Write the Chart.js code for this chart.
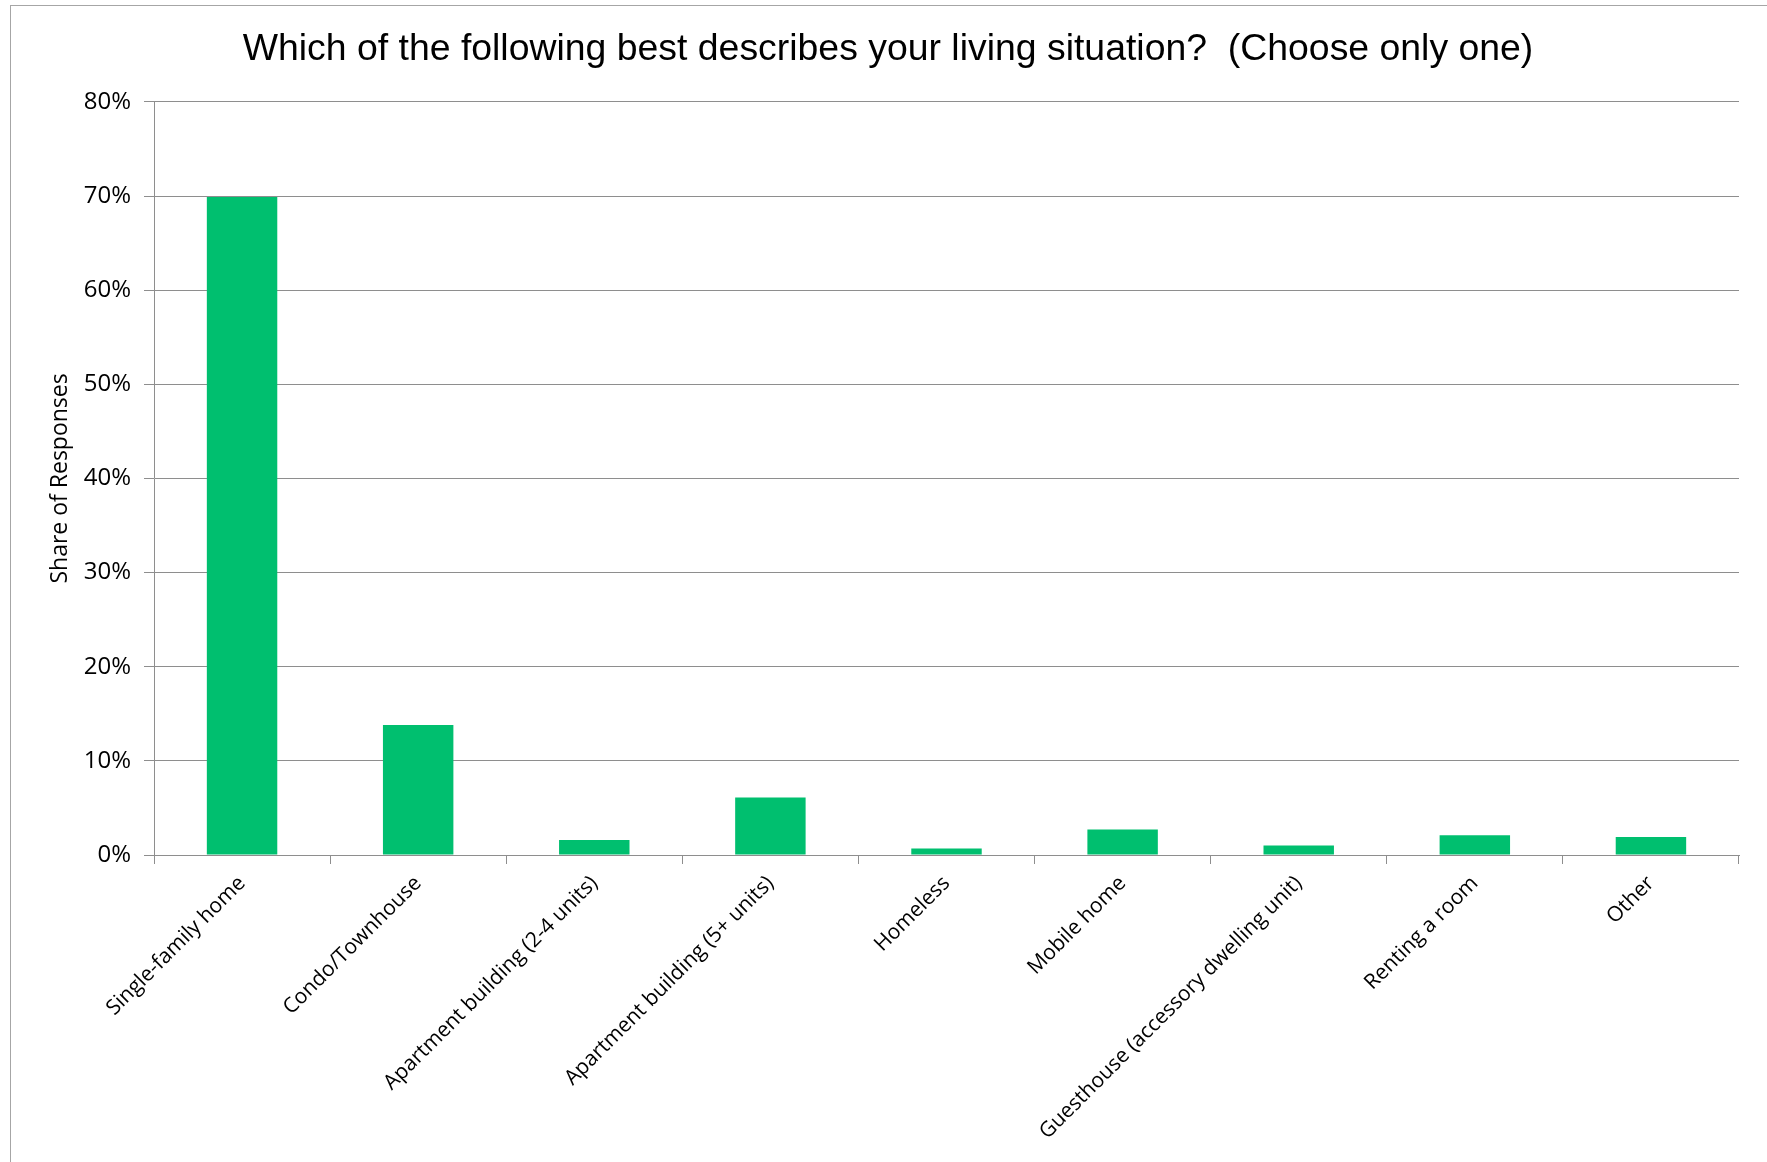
<!DOCTYPE html>
<html lang="en">
<head>
    <meta charset="UTF-8">
    <title>Living situation</title>
    <script src="https://cdn.jsdelivr.net/npm/chart.js"></script>
    <style>
        body {
            margin: 0;
            background: white;
            overflow: hidden;
        }

        .frame {
            position: absolute;
            left: 10px;
            top: 5px;
            width: 2000px;
            height: 2000px;
            border: 1px solid #a6a6a6;
        }

        .chart-container {
            position: absolute;
            left: 0;
            top: 0;
            width: 1767px;
            height: 1162px;
        }
    </style>
</head>
<body>
<div class="frame"></div>
<div class="chart-container">
    <canvas id="livingChart"></canvas>
</div>

<script>
    const categories = [
        'Single-family home',
        'Condo/Townhouse',
        'Apartment building (2-4 units)',
        'Apartment building (5+ units)',
        'Homeless',
        'Mobile home',
        'Guesthouse (accessory dwelling unit)',
        'Renting a room',
        'Other'
    ];
    const shares = [69.9, 13.8, 1.6, 6.1, 0.7, 2.7, 1.0, 2.1, 1.9];
    const yTicks = [0, 10, 20, 30, 40, 50, 60, 70, 80];

    const gridColor = '#8e8e8e';

    const ctx = document.getElementById('livingChart').getContext('2d');
    new Chart(ctx, {
        type: 'bar',
        data: {
            labels: categories,
            datasets: [{
                label: 'Share of Responses',
                data: shares,
                backgroundColor: '#00bf6f',
                borderWidth: 0,
                barPercentage: 0.4,
                categoryPercentage: 1
            }]
        },
        options: {
            responsive: true,
            maintainAspectRatio: false,
            animation: false,
            layout: {
                padding: { left: 37, right: 28, top: 0, bottom: 0 }
            },
            plugins: {
                legend: { display: false },
                tooltip: { enabled: false },
                title: {
                    display: true,
                    text: 'Which of the following best describes your living situation?  (Choose only one)',
                    color: '#000',
                    font: { family: '"Liberation Sans", Arial, sans-serif', size: 37.4, weight: 'normal' },
                    padding: { top: 27, bottom: 30 }
                }
            },
            scales: {
                x: {
                    offset: true,
                    grid: {
                        offset: true,
                        drawOnChartArea: false,
                        color: gridColor,
                        tickLength: 9
                    },
                    border: { color: gridColor },
                    ticks: {
                        color: '#000',
                        font: { family: '"Open Sans", sans-serif', size: 21 },
                        maxRotation: 45,
                        minRotation: 45,
                        autoSkip: false,
                        padding: 7
                    },
                    afterFit: scale => { scale.height = 307; }
                },
                y: {
                    min: 0,
                    max: 80,
                    afterBuildTicks: scale => {
                        scale.ticks = yTicks.map(v => ({ value: v }));
                    },
                    grid: {
                        color: gridColor,
                        tickLength: 10
                    },
                    border: { color: gridColor },
                    ticks: {
                        color: '#000',
                        font: { family: '"Open Sans", sans-serif', size: 24 },
                        padding: 13,
                        callback: v => v + '%'
                    },
                    title: {
                        display: true,
                        text: 'Share of Responses',
                        color: '#000',
                        font: { family: '"Open Sans", sans-serif', size: 23 },
                        padding: { top: 10, bottom: 0 }
                    },
                    afterFit: scale => { scale.width = 117; }
                }
            }
        }
    });
</script>
</body>
</html>
